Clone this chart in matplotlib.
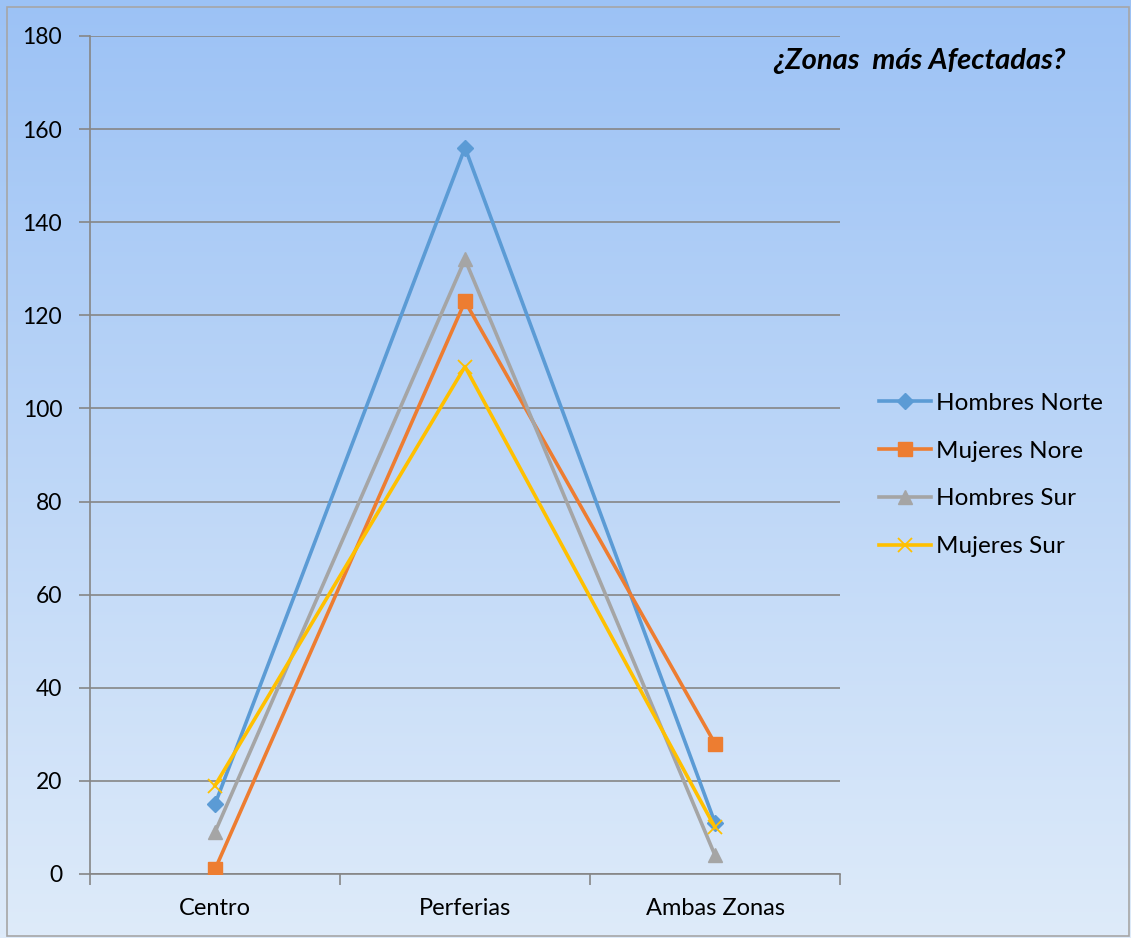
import matplotlib
matplotlib.use("Agg")
import matplotlib.pyplot as plt
import numpy as np
from matplotlib.colors import LinearSegmentedColormap

categories = ["Centro", "Perferias", "Ambas Zonas"]
hombres_norte = [15, 156, 11]
mujeres_nore = [1, 123, 28]
hombres_sur = [9, 132, 4]
mujeres_sur = [19, 109, 10]
series_names = ["Hombres Norte", "Mujeres Nore", "Hombres Sur", "Mujeres Sur"]
y_ticks = [0, 20, 40, 60, 80, 100, 120, 140, 160, 180]

plt.rcParams['font.family'] = ['Lato', 'DejaVu Sans']

W, H = 1131, 938
fig = plt.figure(figsize=(W/100, H/100), dpi=100)

# gradient background
bg = fig.add_axes([0, 0, 1, 1], zorder=-10)
grad = np.linspace(0, 1, 256).reshape(-1, 1)
cmap = LinearSegmentedColormap.from_list("bg", ["#9cc2f5", "#deebfa"])
bg.imshow(grad, aspect='auto', cmap=cmap, extent=[0, 1, 0, 1], origin='upper')
bg.set_xlim(0, 1); bg.set_ylim(0, 1)
bg.axis('off')
bg.add_patch(plt.Rectangle((7/W, 1 - 936/H), (W - 9)/W, (936 - 7)/H, fill=False,
                           edgecolor="#a6a6a6", lw=1.2, transform=bg.transAxes))

left, right, top, bottom = 90, 840, 36, 874
ax = fig.add_axes([left/W, 1 - bottom/H, (right-left)/W, (bottom-top)/H])
ax.patch.set_alpha(0)

x = np.arange(len(categories))
styles = [
    (hombres_norte, "#5b9bd5", "D", 8, {}),
    (mujeres_nore, "#ed7d31", "s", 10, {}),
    (hombres_sur, "#a5a5a5", "^", 10, {}),
    (mujeres_sur, "#ffc000", "x", 10, {"markeredgewidth": 1.3}),
]
handles = []
for (vals, col, mk, ms, extra), name in zip(styles, series_names):
    l, = ax.plot(x, vals, color=col, lw=2.6, marker=mk, markersize=ms,
                 markerfacecolor=col, markeredgecolor=col, label=name, zorder=3, **extra)
    handles.append(l)

ax.set_xlim(-0.5, 2.5)
ax.set_ylim(0, 180)
ax.set_yticks(y_ticks)
ax.yaxis.grid(True, color="#868686", lw=1.2)
ax.set_axisbelow(True)
ax.set_xticks(x)
ax.set_xticklabels(categories, fontsize=17)
ax.set_xticks([-0.5, 0.5, 1.5, 2.5], minor=True)
ax.tick_params(axis='x', which='major', length=0, pad=17)
ax.tick_params(axis='x', which='minor', length=8, color="#868686", width=1.2)
ax.tick_params(axis='y', length=8, color="#868686", width=1.2, labelsize=16.5, pad=12)
for s in ['top', 'right']:
    ax.spines[s].set_visible(False)
for s in ['left', 'bottom']:
    ax.spines[s].set_color("#868686")
    ax.spines[s].set_linewidth(1.2)

fig.text(919/W, 1 - 61/H, "¿Zonas  más Afectadas?", ha='center', va='center',
         fontsize=21, fontweight='bold', fontstyle='italic', color='black')

leg = fig.legend(handles=handles, loc='center left', bbox_to_anchor=(857/W, 1 - 475/H),
                 frameon=False, fontsize=17.5, handlelength=2.15, handletextpad=0.2,
                 labelspacing=1.1)

fig.savefig("out.png", dpi=100)
